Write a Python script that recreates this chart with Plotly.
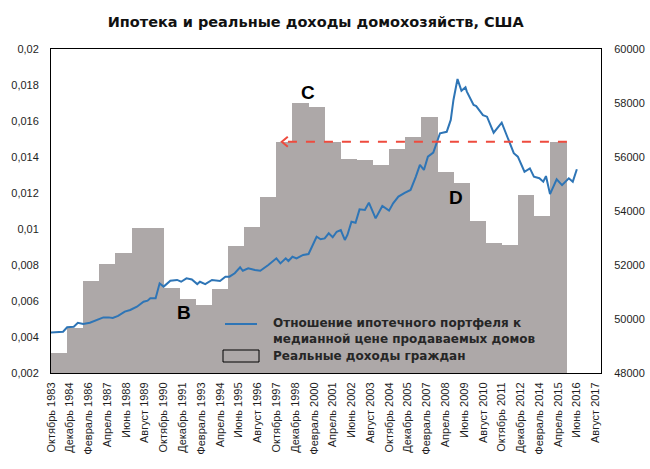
import plotly.graph_objects as go

# ---------------- data ----------------
# Mortgage portfolio / median home price ratio (left axis)
ratio_dates = [
    "1983-10", "1984-07", "1984-10", "1985-03", "1985-06", "1985-10", "1986-03", "1986-08",
    "1987-01", "1987-05", "1987-08", "1987-12", "1988-05", "1988-09", "1989-02", "1989-07",
    "1989-10", "1989-12", "1990-04", "1990-07", "1990-10", "1991-03", "1991-08", "1991-11",
    "1992-03", "1992-07", "1992-11", "1993-01", "1993-05", "1993-10", "1994-04", "1994-08",
    "1994-11", "1995-03", "1995-07", "1995-09", "1996-01", "1996-06", "1996-10", "1997-04",
    "1997-10", "1998-01", "1998-05", "1998-07", "1998-10", "1999-01", "1999-06", "1999-10",
    "2000-04", "2000-07", "2000-10", "2001-01", "2001-04", "2001-07", "2001-10", "2002-01",
    "2002-03", "2002-06", "2002-09", "2002-12", "2003-04", "2003-07", "2003-12", "2004-05",
    "2004-10", "2005-01", "2005-05", "2005-10", "2006-02", "2006-06", "2006-09", "2006-12",
    "2007-03", "2007-07", "2007-10", "2007-12", "2008-05", "2008-08", "2008-10", "2009-01",
    "2009-04", "2009-07", "2009-08", "2010-01", "2010-03", "2010-08", "2010-11", "2011-04",
    "2011-10", "2012-03", "2012-07", "2012-10", "2013-03", "2013-07", "2013-10", "2014-02",
    "2014-05", "2014-07", "2014-10", "2015-03", "2015-07", "2015-12", "2016-03", "2016-06",
]
ratio_values = [
    0.00425, 0.00429, 0.00454, 0.00457, 0.00479, 0.00472, 0.00479, 0.00494,
    0.00509, 0.00509, 0.00506, 0.00517, 0.00541, 0.00550, 0.00568, 0.00596,
    0.00602, 0.00615, 0.00615, 0.00698, 0.00680, 0.00713, 0.00717, 0.00707,
    0.00726, 0.00720, 0.00694, 0.00707, 0.00694, 0.00717, 0.00711, 0.00735,
    0.00735, 0.00754, 0.00787, 0.00768, 0.00782, 0.00772, 0.00768, 0.00800,
    0.00837, 0.00809, 0.00837, 0.00822, 0.00846, 0.00837, 0.00856, 0.00861,
    0.00957, 0.00943, 0.00948, 0.00976, 0.00954, 0.00985, 0.00994, 0.00939,
    0.00967, 0.01040, 0.01035, 0.01109, 0.01106, 0.01146, 0.01059, 0.01128,
    0.01102, 0.01143, 0.01180, 0.01202, 0.01217, 0.01291, 0.01356, 0.01328,
    0.01402, 0.01424, 0.01485, 0.01532, 0.01540, 0.01606, 0.01717, 0.01833,
    0.01768, 0.01787, 0.01763, 0.01689, 0.01683, 0.01633, 0.01624, 0.01535,
    0.01591, 0.01491, 0.01421, 0.01402, 0.01318, 0.01337, 0.01291, 0.01282,
    0.01263, 0.01294, 0.01194, 0.01276, 0.01244, 0.01282, 0.01263, 0.01332,
]

# Real household income (right axis), one column per year
income_years = list(range(1984, 2016))
income_values = [
    48730, 49655, 51420, 52037, 52457, 53383, 53383, 51160,
    50740, 50519, 51111, 52704, 53420, 54530, 56567, 57990,
    57864, 56567, 55926, 55889, 55704, 56285, 56729, 57470,
    55433, 55025, 53630, 52827, 52740, 54593, 53815, 56567,
]

tick_labels = [
    "Октябрь 1983", "Декабрь 1984", "Февраль 1986", "Апрель 1987", "Июнь 1988",
    "Август 1989", "Октябрь 1990", "Декабрь 1991", "Февраль 1993", "Апрель 1994",
    "Июнь 1995", "Август 1996", "Октябрь 1997", "Декабрь 1998", "Февраль 2000",
    "Апрель 2001", "Июнь 2002", "Август 2003", "Октябрь 2004", "Декабрь 2005",
    "Февраль 2007", "Апрель 2008", "Июнь 2009", "Август 2010", "Октябрь 2011",
    "Декабрь 2012", "Февраль 2014", "Апрель 2015", "Июнь 2016", "Август 2017",
]
month_num = {"Январь": 1, "Февраль": 2, "Март": 3, "Апрель": 4, "Май": 5, "Июнь": 6,
             "Июль": 7, "Август": 8, "Сентябрь": 9, "Октябрь": 10, "Ноябрь": 11, "Декабрь": 12}
tick_dates = []
for lab in tick_labels:
    m, y = lab.split()
    tick_dates.append(f"{y}-{month_num[m]:02d}-01")

title_text = "Ипотека и реальные доходы домохозяйств, США"
line_name = "Отношение ипотечного портфеля к<br>медианной цене продаваемых домов"
bar_name = "Реальные доходы граждан"

# reference level (dashed arrow)
ref_level = 0.01485
ref_start = "2015-10-20"
ref_end = "1998-02-01"

# ---------------- figure ----------------
BAR_COLOR = "#ADA8A8"
LINE_COLOR = "#2E75B6"
YEAR_MS = 365.25 * 24 * 3600 * 1000

fig = go.Figure()
fig.add_trace(go.Bar(
    x=[f"{y - 1}-10-01" for y in income_years], y=income_values,
    width=[YEAR_MS * 1.03] * len(income_years), offset=0,
    marker=dict(color=BAR_COLOR, line=dict(width=0)),
    name=bar_name, yaxis="y", showlegend=False,
))
fig.add_trace(go.Scatter(
    x=[d + "-01" for d in ratio_dates], y=ratio_values, mode="lines",
    line=dict(color=LINE_COLOR, width=2), name=line_name, yaxis="y2",
    showlegend=False,
))

tick_font = dict(family="Liberation Sans, Arial, sans-serif", size=11, color="#1e1e1e")

fig.update_layout(
    width=650, height=469,
    margin=dict(l=51, r=49, t=49, b=96, autoexpand=False),
    paper_bgcolor="white", plot_bgcolor="white",
    separators=", ",
    bargap=0,
    title=dict(text=f"<b>{title_text}</b>", x=315.7 / 650, xanchor="center",
               y=1 - 22 / 469, yanchor="middle", yref="container", automargin=False,
               font=dict(family="DejaVu Sans, Verdana, sans-serif", size=14.5, color="#111111")),
    xaxis=dict(type="date", range=["1983-10-01", "2017-12-01"],
               tickvals=tick_dates, ticktext=tick_labels, tickangle=-90,
               tickfont=tick_font, showgrid=False, zeroline=False,
               showline=True, linecolor="black", linewidth=1, mirror=True,
               ticks="", ticklabelstandoff=4, automargin=False),
    yaxis=dict(side="right", range=[48000, 60000], dtick=2000, tick0=48000,
               tickformat="d", tickfont=tick_font, showgrid=False, zeroline=False,
               showline=True, linecolor="black", linewidth=1, ticks="",
               ticklabelstandoff=10, automargin=False),
    yaxis2=dict(side="left", overlaying="y", range=[0.002, 0.02], dtick=0.002, tick0=0.002,
                tickfont=tick_font, showgrid=False, zeroline=False,
                showline=True, linecolor="black", linewidth=1, ticks="",
                ticklabelstandoff=9, automargin=False),
)

# dashed reference arrow
fig.add_shape(type="line", xref="x", yref="y2", x0=ref_start, x1=ref_end,
              y0=ref_level, y1=ref_level,
              line=dict(color="#EE4B3E", width=2, dash="dash"))
fig.add_shape(type="path", xref="x", yref="y2", xsizemode="pixel", ysizemode="pixel",
              xanchor=ref_end, yanchor=ref_level,
              path="M 6,-5 L 0,0 L 6,5",
              line=dict(color="#EE4B3E", width=2))

# letters
letter_font = dict(family="Liberation Sans, Arial, sans-serif", size=19, color="black")
for txt, px, py in [("C", 308, 92), ("B", 184, 312), ("D", 456, 197)]:
    fig.add_annotation(text=f"<b>{txt}</b>", xref="paper", yref="paper",
                       x=(px - 51) / 550, y=(373 - py) / 324, showarrow=False,
                       font=letter_font, xanchor="center", yanchor="middle")

# custom legend
leg_font = dict(family="DejaVu Sans, Verdana, sans-serif", size=12, color="#262626")
fig.add_shape(type="line", xref="paper", yref="paper",
              x0=(225 - 51) / 550, x1=(257 - 51) / 550,
              y0=(373 - 324) / 324, y1=(373 - 324) / 324,
              line=dict(color=LINE_COLOR, width=2))
fig.add_shape(type="rect", xref="paper", yref="paper",
              x0=(223 - 51) / 550, x1=(259 - 51) / 550,
              y0=(373 - 362) / 324, y1=(373 - 350) / 324,
              line=dict(color="black", width=1), fillcolor="rgba(0,0,0,0)")
fig.add_annotation(text=f"<b>{line_name}</b>", xref="paper", yref="paper",
                   x=(271 - 51) / 550, y=(373 - 331) / 324, showarrow=False,
                   xanchor="left", yanchor="middle", align="left", font=leg_font)
fig.add_annotation(text=f"<b>{bar_name}</b>", xref="paper", yref="paper",
                   x=(271 - 51) / 550, y=(373 - 356) / 324, showarrow=False,
                   xanchor="left", yanchor="middle", align="left", font=leg_font)

fig.write_html("out.html", config={"displayModeBar": False},
               post_script="document.body.style.margin='0';")
